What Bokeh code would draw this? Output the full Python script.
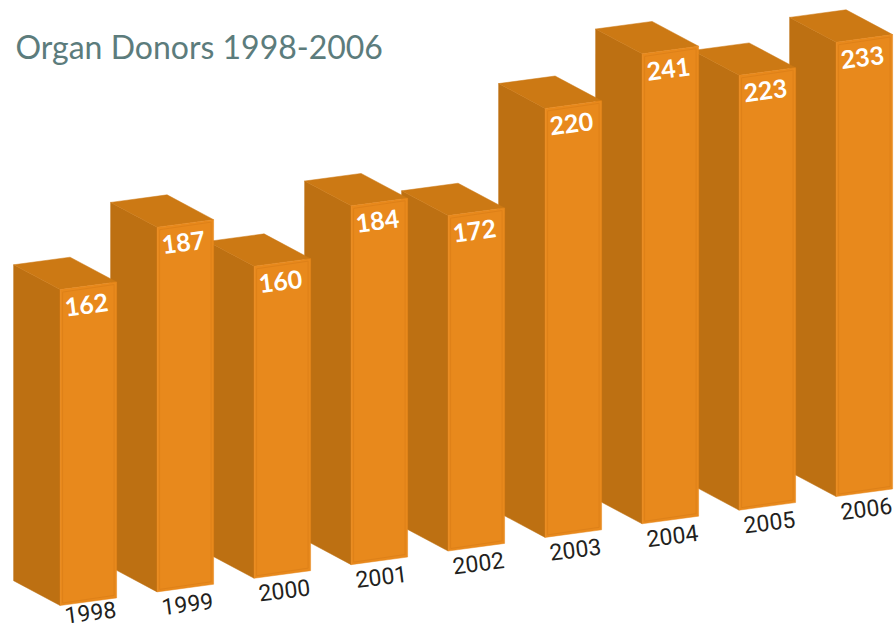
from bokeh.core.properties import value
from bokeh.embed import file_html
from bokeh.models import ColumnDataSource, Range1d
from bokeh.plotting import figure
from bokeh.resources import INLINE

years = ["1998", "1999", "2000", "2001", "2002", "2003", "2004", "2005", "2006"]
donors = [162, 187, 160, 184, 172, 220, 241, 223, 233]
title_text = "Organ Donors 1998-2006"

PX_PER_DONOR = 1.95
X0, STEP_X = 59.6, 97.0
Y0, STEP_Y = 605.0, -13.62
FRONT_W, FRONT_DY = 56.5, -7.6
SIDE_DX, SIDE_DY = -46.5, -24.8
INSET = 2.5

FRONT_COLOR = "#E8891C"
FRONT_EDGE = "#DE8119"
SIDE_COLOR = "#BD7012"
TOP_COLOR = "#CC7914"

front_x, front_y, side_x, side_y, top_x, top_y = [], [], [], [], [], []
inner_x, inner_y = [], []
label_x, label_y, label_t, year_x, year_y = [], [], [], [], []

for i, (yr, v) in enumerate(zip(years, donors)):
    xl = X0 + STEP_X * i
    yb = Y0 + STEP_Y * i
    h = v * PX_PER_DONOR
    xr = xl + FRONT_W
    ybr = yb + FRONT_DY
    ytl = yb - h
    ytr = ytl + FRONT_DY
    front_x.append([xl, xr, xr, xl])
    front_y.append([yb, ybr, ytr, ytl])
    side_x.append([xl + SIDE_DX, xl, xl, xl + SIDE_DX])
    side_y.append([yb + SIDE_DY, yb, ytl, ytl + SIDE_DY])
    top_x.append([xl, xr, xr + SIDE_DX, xl + SIDE_DX])
    top_y.append([ytl, ytr, ytr + SIDE_DY, ytl + SIDE_DY])
    inner_x.append([xl + INSET, xr - INSET, xr - INSET, xl + INSET])
    inner_y.append([yb - INSET, ybr - INSET, ytr + INSET, ytl + INSET])
    cx = xl + FRONT_W / 2
    cy_top = ytl + FRONT_DY / 2
    cy_bot = yb + FRONT_DY / 2
    label_x.append(cx - 2)
    label_y.append(cy_top + 19)
    label_t.append(str(v))
    year_x.append(cx + 2)
    # the first year label sits at the page's lower edge: lift it so that it stays inside
    year_y.append(cy_bot + (10.5 if i == 0 else 15.5))

# right-most bar first, so that each bar's front covers its neighbour's side
order = list(range(len(years)))[::-1]

p = figure(width=894, height=630, output_backend="svg", toolbar_location=None,
           x_range=Range1d(0, 894), y_range=Range1d(630, 0),
           min_border=0, outline_line_color=None, background_fill_color="white",
           border_fill_color="white")
p.axis.visible = False
p.grid.visible = False

for i in order:
    p.patch(side_x[i], side_y[i], fill_color=SIDE_COLOR, line_color=SIDE_COLOR, line_width=0.5)
    p.patch(top_x[i], top_y[i], fill_color=TOP_COLOR, line_color=TOP_COLOR, line_width=0.5)
    p.patch(front_x[i], front_y[i], fill_color=FRONT_COLOR, line_color=FRONT_COLOR, line_width=0.5)
    p.patch(inner_x[i], inner_y[i], fill_alpha=0, line_color=FRONT_EDGE, line_width=1)

src = ColumnDataSource(dict(x=label_x, y=label_y, t=label_t))
p.text("x", "y", text="t", source=src, angle=0.125, text_color="white",
       text_font=value("Lato"), text_font_style="bold", text_font_size="25px",
       text_align="center", text_baseline="middle")

src2 = ColumnDataSource(dict(x=year_x, y=year_y, t=years))
p.text("x", "y", text="t", source=src2, angle=0.125, text_color="#231F20",
       text_font=value("Roboto"), text_font_size="23px",
       text_align="center", text_baseline="middle")

p.text([15], [46], text=[title_text], text_color="#5C7C7C",
       text_font=value("Lato"), text_font_size="32px",
       text_align="left", text_baseline="alphabetic")

open("out.html", "w").write(file_html(p, INLINE))
